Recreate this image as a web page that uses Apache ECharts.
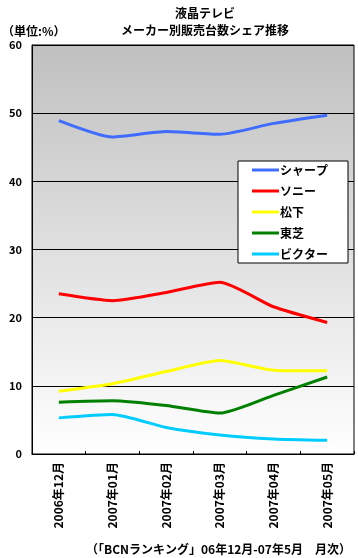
<!DOCTYPE html>
<html><head><meta charset="utf-8">
<script src="https://cdn.jsdelivr.net/npm/echarts@6/dist/echarts.min.js"></script>
<style>html,body{margin:0;padding:0;background:#fff}#c{width:358px;height:558px}</style>
</head><body><div id="c"></div>
<script>
const categories = ['2006年12月','2007年01月','2007年02月','2007年03月','2007年04月','2007年05月'];
const seriesNames = ['シャープ','ソニー','松下','東芝','ビクター'];
const sharp = [48.9, 46.5, 47.3, 46.9, 48.5, 49.7];
const sony = [23.5, 22.5, 23.7, 25.2, 21.6, 19.3];
const matsushita = [9.2, 10.3, 12.1, 13.7, 12.3, 12.2];
const toshiba = [7.6, 7.8, 7.1, 6.0, 8.6, 11.3];
const victor = [5.3, 5.8, 3.9, 2.8, 2.2, 2.0];
const colors = ['#3f6cff','#ff0000','#ffff00','#008000','#00ccff'];
const yTicks = {min: 0, max: 60, interval: 10};

const font = '"Noto Sans CJK JP", sans-serif';
const chart = echarts.init(document.getElementById('c'));
const values = [sharp, sony, matsushita, toshiba, victor];
chart.setOption({
  animation: false,
  textStyle: {fontFamily: font},
  title: [
    {text: '液晶テレビ', left: 200, top: 2, textAlign: 'center',
     textStyle: {fontSize: 12, fontWeight: 'bold', color: '#000', fontFamily: font}},
    {text: 'メーカー別販売台数シェア推移', left: 200, top: 19, textAlign: 'center',
     textStyle: {fontSize: 12, fontWeight: 'bold', color: '#000', fontFamily: font}},
    {text: '（単位:%）', left: -3, top: 20,
     textStyle: {fontSize: 12, fontWeight: 'bold', color: '#000', fontFamily: font}},
    {text: '（「BCNランキング」06年12月-07年5月　月次）', right: 2, top: 538,
     textStyle: {fontSize: 12, fontWeight: 'bold', color: '#000', fontFamily: font}}
  ],
  grid: {left: 32, right: 4, top: 45, bottom: 104, show: true, borderColor: '#000', borderWidth: 1,
    backgroundColor: new echarts.graphic.LinearGradient(0,0,0,1,[{offset:0,color:'#c0c0c0'},{offset:1,color:'#ffffff'}])},
  legend: {
    orient: 'vertical', left: 238, top: 161, width: 103,
    padding: [3, 20, 3, 14],
    backgroundColor: '#fff', borderColor: '#000', borderWidth: 1,
    icon: 'rect', itemWidth: 27, itemHeight: 3, itemGap: 9, itemStyle: {borderWidth: 0},
    textStyle: {fontSize: 12, fontWeight: 'bold', color: '#000', fontFamily: font, padding: [0,0,0,-4]},
    data: seriesNames
  },
  xAxis: {
    type: 'category', data: categories, boundaryGap: true,
    axisLine: {lineStyle: {color: '#000'}},
    axisTick: {show: true, inside: true, length: 3, lineStyle: {color: '#000'}},
    axisLabel: {rotate: 90, fontSize: 12, fontWeight: 'bold', color: '#000', margin: 8, fontFamily: font}
  },
  yAxis: {
    type: 'value', min: yTicks.min, max: yTicks.max, interval: yTicks.interval,
    axisLine: {show: true, lineStyle: {color: '#000'}},
    axisTick: {show: false},
    splitLine: {lineStyle: {color: '#000', width: 1}},
    axisLabel: {fontSize: 11, fontWeight: 'bold', color: '#000', margin: 10, fontFamily: font}
  },
  series: seriesNames.map((n, i) => ({
    name: n, type: 'line', data: values[i], smooth: 0.2, symbol: 'none',
    lineStyle: {color: colors[i], width: 3}, itemStyle: {color: colors[i]}
  }))
});
</script></body></html>
